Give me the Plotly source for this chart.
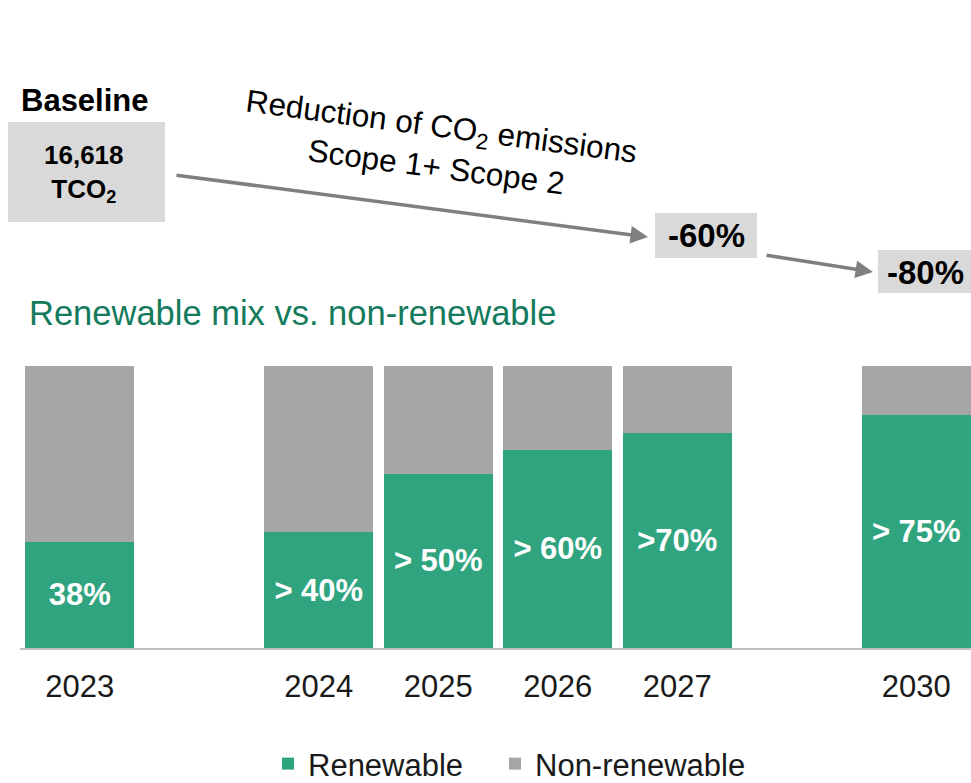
import plotly.graph_objects as go

# ---- data ----
years = ["2023", "2024", "2025", "2026", "2027", "2030"]
slot_order = ["2023", " ", "2024", "2025", "2026", "2027", "  ", "2030"]
renewable = [37.6, 41.1, 61.8, 70.3, 76.2, 82.7]
non_renewable = [62.4, 58.9, 38.2, 29.7, 23.8, 17.3]
bar_labels = ["38%", "> 40%", "> 50%", "> 60%", ">70%", "> 75%"]
baseline_value = "16,618"
targets = ["-60%", "-80%"]

W, H = 971, 783
L, R_, T, B = 20, 0, 366, 135
FONT = "Liberation Sans, Arial, sans-serif"
GREEN = "#2fa47f"
GREY = "#a6a6a6"
BOX = "#d9d9d9"
ARROW = "#7f7f7f"

pw = W - L - R_
ph = H - T - B


def px(x):
    return (x - L) / pw


def py(y):
    return (H - B - y) / ph


fig = go.Figure()
fig.add_trace(go.Bar(
    x=years, y=renewable, name="Renewable", marker_color=GREEN,
    marker_line_width=0,
    text=bar_labels, textposition="inside", insidetextanchor="middle",
    textangle=0, constraintext="none",
    textfont=dict(family=FONT, size=31, color="white", weight="bold"),
    hoverinfo="skip", legend="legend",
))
fig.add_trace(go.Bar(
    x=years, y=non_renewable, name="Non-renewable", marker_color=GREY,
    marker_line_width=0, hoverinfo="skip", legend="legend2",
))

shapes = [
    dict(type="rect", xref="paper", yref="paper", x0=px(8), x1=px(165), y0=py(222), y1=py(122),
         fillcolor=BOX, line_width=0, layer="below"),
    dict(type="rect", xref="paper", yref="paper", x0=px(655), x1=px(757), y0=py(258), y1=py(213),
         fillcolor=BOX, line_width=0, layer="below"),
    dict(type="rect", xref="paper", yref="paper", x0=px(878), x1=px(975), y0=py(293), y1=py(250),
         fillcolor=BOX, line_width=0, layer="below"),
]

annotations = [
    dict(text="<b>Baseline</b>", x=px(85), y=py(100), xref="paper", yref="paper",
         showarrow=False, font=dict(family=FONT, size=31, color="black"),
         xanchor="center", yanchor="middle"),
    dict(text="<b>" + baseline_value + "<br>TCO<sub>2</sub></b>", x=px(84), y=py(174),
         xref="paper", yref="paper", showarrow=False,
         font=dict(family=FONT, size=26, color="black"), xanchor="center", yanchor="middle"),
    dict(text="Reduction of CO<sub>2</sub> emissions<br>Scope 1+ Scope 2", x=px(439), y=py(146),
         xref="paper", yref="paper", showarrow=False, textangle=7.5,
         font=dict(family=FONT, size=31.5, color="black"), xanchor="center", yanchor="middle"),
    dict(text="<b>" + targets[0] + "</b>", x=px(706), y=py(236), xref="paper", yref="paper",
         showarrow=False, font=dict(family=FONT, size=33, color="black"),
         xanchor="center", yanchor="middle"),
    dict(text="<b>" + targets[1] + "</b>", x=px(925), y=py(272), xref="paper", yref="paper",
         showarrow=False, font=dict(family=FONT, size=33, color="black"),
         xanchor="center", yanchor="middle"),
    dict(text="", x=px(648), y=py(237), xref="paper", yref="paper",
         showarrow=True, ax=175 - 648, ay=175 - 237, axref="pixel", ayref="pixel",
         arrowhead=2, arrowsize=1, arrowwidth=3.5, arrowcolor=ARROW, standoff=0, startstandoff=0),
    dict(text="", x=px(873), y=py(272), xref="paper", yref="paper",
         showarrow=True, ax=765 - 873, ay=255 - 272, axref="pixel", ayref="pixel",
         arrowhead=2, arrowsize=1, arrowwidth=3.5, arrowcolor=ARROW, standoff=0, startstandoff=0),
    dict(text="Renewable mix vs. non-renewable", x=px(27), y=py(313), xref="paper", yref="paper",
         showarrow=False, font=dict(family=FONT, size=34.5, color="#137b5c"),
         xanchor="left", yanchor="middle"),
]

legend_common = dict(orientation="h", yanchor="middle", xanchor="left",
                     font=dict(family=FONT, size=31, color="#1a1a1a"),
                     itemsizing="constant", itemwidth=30, bgcolor="rgba(0,0,0,0)")

fig.update_layout(
    width=W, height=H,
    margin=dict(l=L, r=R_, t=T, b=B, pad=0, autoexpand=False),
    paper_bgcolor="white", plot_bgcolor="white",
    barmode="stack", bargap=0.088,
    font=dict(family=FONT, size=31, color="#1a1a1a"),
    shapes=shapes, annotations=annotations,
    showlegend=True,
    legend=dict(x=px(268), y=py(764), **legend_common),
    legend2=dict(x=px(495), y=py(764), **legend_common),
    xaxis=dict(type="category", categoryorder="array", categoryarray=slot_order,
               range=[-0.5, 7.458], showgrid=False, showline=True, linecolor="#bfbfbf",
               linewidth=2, ticks="", ticklabelstandoff=10, automargin=False,
               tickfont=dict(family=FONT, size=31, color="#1a1a1a"), fixedrange=True),
    yaxis=dict(range=[0, 100], visible=False, showgrid=False, fixedrange=True, automargin=False),
)

fig.write_html("out.html")
